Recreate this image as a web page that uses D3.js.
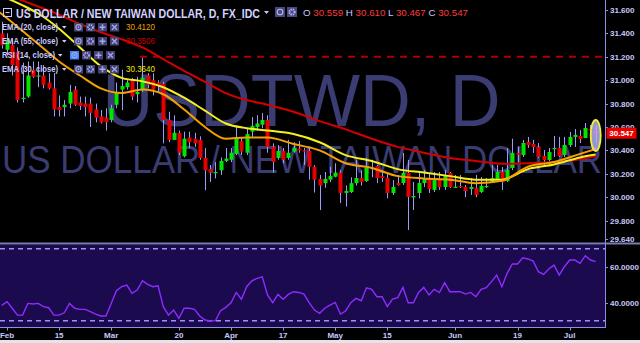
<!DOCTYPE html>
<html>
<head>
<meta charset="utf-8">
<script src="https://cdn.jsdelivr.net/npm/d3@7"></script>
<style>
  body { margin: 0; background: #000; }
  svg { display: block; }
  text { font-family: "Liberation Sans", Arial, sans-serif; }
</style>
</head>
<body>
<script>
// USD/TWD daily candles, 31 Jan - 10 Jul (first value is the day before "Feb")
const open = [31.40, 31.26, 31.30, 31.24, 30.84, 30.86, 31.09, 31.03, 31.04, 30.98,
  30.93, 30.77, 30.77, 30.80, 30.92, 30.81, 30.80, 30.80, 30.75, 30.69,
  30.68, 30.66, 30.79, 30.92, 30.94, 31.00, 30.88, 30.92, 31.04, 31.00,
  30.98, 30.97, 30.66, 30.49, 30.55, 30.35, 30.51, 30.50, 30.49, 30.335,
  30.24, 30.207, 30.23, 30.31, 30.32, 30.37, 30.48, 30.38, 30.56, 30.60,
  30.62, 30.66, 30.43, 30.335, 30.395, 30.335, 30.39, 30.415, 30.40, 30.395,
  30.26, 30.156, 30.12, 30.15, 30.175, 30.21, 30.036, 30.044, 30.12, 30.164,
  30.138, 30.24, 30.267, 30.18, 30.164, 30.036, 30.121, 30.121, 30.207, 29.998,
  30.036, 30.121, 30.164, 30.062, 30.147, 30.087, 30.207, 30.083, 30.096, 30.087,
  30.07, 30.079, 30.044, 30.087, 30.121, 30.147, 30.215, 30.138, 30.25, 30.378,
  30.361, 30.472, 30.455, 30.429, 30.352, 30.318, 30.412, 30.421, 30.361, 30.446,
  30.515, 30.523, 30.506, 30.583, 30.559]
const high = [31.50, 31.40, 31.34, 31.28, 31.15, 31.16, 31.16, 31.16, 31.13, 31.06,
  31.06, 30.87, 30.83, 30.96, 30.95, 30.86, 30.86, 30.85, 30.80, 30.745,
  30.76, 30.79, 30.98, 31.09, 31.00, 31.02, 31.03, 31.19, 31.06, 31.06,
  31.00, 30.985, 30.73, 30.70, 30.57, 30.56, 30.56, 30.55, 30.52, 30.42,
  30.275, 30.30, 30.34, 30.42, 30.42, 30.60, 30.515, 30.59, 30.685, 30.70,
  30.72, 30.70, 30.46, 30.445, 30.42, 30.49, 30.47, 30.48, 30.42, 30.42,
  30.275, 30.19, 30.215, 30.26, 30.29, 30.23, 30.10, 30.17, 30.32, 30.23,
  30.335, 30.32, 30.275, 30.23, 30.207, 30.147, 30.19, 30.378, 30.318, 30.13,
  30.207, 30.232, 30.207, 30.215, 30.215, 30.232, 30.215, 30.19, 30.19, 30.104,
  30.164, 30.19, 30.173, 30.164, 30.275, 30.275, 30.258, 30.42, 30.50, 30.43,
  30.49, 30.515, 30.49, 30.463, 30.403, 30.421, 30.523, 30.515, 30.515, 30.557,
  30.583, 30.574, 30.634, 30.617, 30.610]
const low = [31.27, 31.21, 31.04, 30.81, 30.81, 30.85, 31.02, 30.94, 30.93, 30.92,
  30.69, 30.69, 30.69, 30.76, 30.78, 30.745, 30.69, 30.60, 30.64, 30.63,
  30.57, 30.64, 30.76, 30.745, 30.92, 30.83, 30.81, 30.90, 30.93, 30.87,
  30.89, 30.46, 30.47, 30.49, 30.36, 30.34, 30.42, 30.43, 30.32, 30.06,
  30.13, 30.16, 30.19, 30.30, 30.30, 30.36, 30.36, 30.36, 30.515, 30.57,
  30.59, 30.38, 30.21, 30.32, 30.29, 30.32, 30.38, 30.38, 30.275, 30.15,
  30.04, 29.89, 30.08, 30.13, 30.17, 29.95, 29.92, 30.036, 30.10, 30.10,
  30.13, 30.17, 30.12, 30.13, 29.99, 30.019, 30.10, 30.104, 29.72, 29.89,
  29.99, 30.087, 30.036, 30.044, 30.062, 30.062, 30.079, 30.079, 30.079, 30.00,
  30.019, 30.00, 30.036, 30.079, 30.121, 30.13, 30.062, 30.13, 30.232, 30.30,
  30.344, 30.421, 30.378, 30.335, 30.275, 30.30, 30.344, 30.344, 30.344, 30.429,
  30.429, 30.463, 30.506, 30.557, 30.467]
const close = [31.30, 31.34, 31.13, 30.83, 30.85, 31.04, 31.03, 31.04, 30.96, 30.93,
  30.75, 30.745, 30.79, 30.90, 30.79, 30.78, 30.77, 30.72, 30.68, 30.64,
  30.64, 30.76, 30.90, 30.95, 30.98, 30.86, 30.90, 31.02, 30.96, 30.92,
  30.95, 30.66, 30.49, 30.55, 30.38, 30.50, 30.47, 30.46, 30.335, 30.23,
  30.21, 30.215, 30.31, 30.33, 30.38, 30.50, 30.39, 30.54, 30.61, 30.63,
  30.66, 30.43, 30.30, 30.395, 30.32, 30.38, 30.42, 30.40, 30.39, 30.26,
  30.15, 30.10, 30.156, 30.18, 30.21, 30.036, 30.053, 30.12, 30.164, 30.13,
  30.25, 30.25, 30.164, 30.164, 30.036, 30.087, 30.104, 30.207, 30.002, 30.01,
  30.121, 30.164, 30.07, 30.147, 30.087, 30.19, 30.087, 30.09, 30.087, 30.053,
  30.087, 30.019, 30.096, 30.096, 30.164, 30.215, 30.13, 30.232, 30.378, 30.361,
  30.463, 30.446, 30.429, 30.344, 30.318, 30.386, 30.421, 30.352, 30.446, 30.515,
  30.532, 30.497, 30.591, 30.574, 30.547]
const rsi = [38.5, 40.6, 36.9, 33.1, 33.1, 39.6, 39.3, 39.6, 37.8, 37.2,
  33.1, 33.1, 34.4, 39.6, 36.9, 36.3, 36.3, 35.0, 33.7, 32.6,
  32.6, 39.6, 46.7, 48.9, 49.8, 45.2, 47.0, 52.2, 50.2, 48.9,
  49.4, 37.8, 33.1, 35.9, 31.3, 36.9, 36.9, 36.3, 32.6, 30.4,
  29.8, 30.0, 35.6, 37.4, 40.0, 45.7, 41.9, 48.9, 52.2, 53.5,
  54.4, 44.3, 40.0, 44.6, 41.9, 44.6, 46.1, 45.7, 44.8, 40.0,
  35.9, 34.1, 36.9, 38.7, 40.2, 33.7, 35.4, 40.0, 42.4, 41.1,
  48.3, 47.4, 43.3, 43.3, 37.8, 42.0, 42.8, 48.5, 40.0, 40.0,
  45.7, 48.5, 44.3, 47.4, 45.6, 51.1, 46.1, 46.1, 46.1, 44.8,
  45.7, 43.3, 47.4, 48.3, 51.7, 55.4, 48.9, 56.3, 61.5, 61.5,
  65.0, 64.3, 63.1, 57.2, 55.7, 58.7, 60.9, 55.4, 60.0, 63.7,
  63.7, 61.9, 66.1, 63.7, 62.8]

// moving averages at these trading-day indexes (0 = 1 Feb)
const emaDays = [-3, 0, 3, 6, 10, 14, 18, 22, 26, 30, 34, 38, 42, 46, 50, 55, 60, 65, 70, 75, 80, 85, 90, 95, 100, 105, 110, 113]
const ema20 = [31.63, 31.53, 31.42, 31.31, 31.16, 31.04, 30.93, 30.89, 30.92, 30.88, 30.75, 30.60, 30.50, 30.51,
  30.51, 30.455, 30.40, 30.29, 30.25, 30.18, 30.16, 30.15, 30.12, 30.14, 30.26, 30.30, 30.37, 30.412]
const ema30 = [31.75, 31.70, 31.64, 31.57, 31.44, 31.28, 31.12, 31.02, 30.99, 30.94, 30.85, 30.74, 30.63, 30.59,
  30.57, 30.54, 30.47, 30.36, 30.31, 30.24, 30.21, 30.18, 30.15, 30.15, 30.24, 30.28, 30.34, 30.364]
const ema55 = [31.77, 31.73, 31.68, 31.63, 31.56, 31.48, 31.41, 31.35, 31.28, 31.18, 31.08, 30.985, 30.89, 30.83,
  30.79, 30.73, 30.65, 30.58, 30.50, 30.43, 30.38, 30.335, 30.31, 30.285, 30.29, 30.30, 30.325, 30.3506]

const dateTicks = [0, 10, 20, 33, 43, 53, 63, 73, 86, 98, 108]
const dateLabels = ['Feb', '15', 'Mar', '20', 'Apr', '17', 'May', '15', 'Jun', '19', 'Jul']
const priceTicks = [31.6, 31.4, 31.2, 31.0, 30.8, 30.6, 30.4, 30.2, 30.0, 29.8, 29.64]
const rsiTicks = [60, 40]
const rsiBands = [70, 30]
const resistance = 31.2

const legendLabels = ['EMA (20, close)', 'EMA (55, close)', 'RSI (14, close)', 'EMA (30, close)']
const legendValues = ['30.4120', '30.3506', '', '30.3640']
const ohlcLast = ['30.559', '30.610', '30.467', '30.547']
const rsiLast = '62.8031'

const W = 640, H = 343
const plotRight = 605
const lavender = '#c8c8fc'

const svg = d3.select('body').append('svg')
  .attr('width', W)
  .attr('height', H)

svg.append('rect').attr('width', W).attr('height', H).attr('fill', '#000')

const x = d3.scaleLinear().domain([0, 113]).range([7, 595.7])
const y = d3.scaleLinear().domain([29.64, 31.6]).range([239.3, 10])
const yR = d3.scaleLinear().domain([30, 70]).range([320.7, 248.7])

const defs = svg.append('defs')
defs.append('clipPath').attr('id', 'clipPrice')
  .append('rect').attr('width', plotRight).attr('height', 243)
defs.append('clipPath').attr('id', 'clipRsi')
  .append('rect').attr('y', 245).attr('width', plotRight).attr('height', 82)
defs.append('clipPath').attr('id', 'clipAxis')
  .append('rect').attr('x', plotRight).attr('width', W - plotRight).attr('height', 243)

// ---- price panel ----
const price = svg.append('g').attr('clip-path', 'url(#clipPrice)')

// watermark
price.append('text')
  .attr('x', 301.5).attr('y', 125.5)
  .attr('text-anchor', 'middle')
  .attr('font-size', 74)
  .attr('textLength', 398).attr('lengthAdjust', 'spacingAndGlyphs')
  .attr('fill', '#3a3c72')
  .text('USDTWD, D')
price.append('text')
  .attr('x', 302).attr('y', 172.5)
  .attr('text-anchor', 'middle')
  .attr('font-size', 38)
  .attr('textLength', 600).attr('lengthAdjust', 'spacingAndGlyphs')
  .attr('fill', '#3a3c72')
  .text('US DOLLAR / NEW TAIWAN DOLLAR')

price.append('line')
  .attr('x1', 140).attr('x2', plotRight)
  .attr('y1', y(resistance)).attr('y2', y(resistance))
  .attr('stroke', '#b00000').attr('stroke-width', 2)
  .attr('stroke-dasharray', '7,6')

const candles = open.map((o, i) => ({ day: i - 1, o: o, h: high[i], l: low[i], c: close[i] }))

price.selectAll('.wick').data(candles).join('line')
  .attr('class', 'wick')
  .attr('x1', d => Math.round(x(d.day)) + 0.5).attr('x2', d => Math.round(x(d.day)) + 0.5)
  .attr('y1', d => y(d.h)).attr('y2', d => y(d.l))
  .attr('stroke', '#9c9cff').attr('stroke-width', 1)

price.selectAll('.body').data(candles).join('rect')
  .attr('class', 'body')
  .attr('x', d => Math.round(x(d.day)) - 1.5)
  .attr('width', 4)
  .attr('y', d => y(Math.max(d.o, d.c)))
  .attr('height', d => Math.max(1.2, Math.abs(y(d.o) - y(d.c))))
  .attr('fill', d => d.c >= d.o ? '#00e600' : '#e60000')

const emaLine = vals => d3.line()
  .x(d => x(d))
  .y((d, i) => y(vals[i]))
  .curve(d3.curveMonotoneX)(emaDays)

price.append('path').attr('d', emaLine(ema55))
  .attr('fill', 'none').attr('stroke', '#d40000').attr('stroke-width', 2)
price.append('path').attr('d', emaLine(ema30))
  .attr('fill', 'none').attr('stroke', '#f4f020').attr('stroke-width', 2)
price.append('path').attr('d', emaLine(ema20))
  .attr('fill', 'none').attr('stroke', '#f5a000').attr('stroke-width', 2)

// highlight round the last bar
price.append('ellipse')
  .attr('cx', x(113)).attr('cy', 135.5)
  .attr('rx', 5).attr('ry', 15.5)
  .attr('fill', '#b0b0f4').attr('fill-opacity', 0.85)
  .attr('stroke', '#f2ee3a').attr('stroke-width', 1.8)
price.append('rect')
  .attr('x', x(113) - 2).attr('width', 4)
  .attr('y', y(open[open.length - 1])).attr('height', 1.5)
  .attr('fill', '#f080c0')

// legend
function iconBoxes(g, x0, y0, w, h, fill, glyph, firstFill) {
  ['eye', 'gear', 'plus', 'cross'].forEach((k, j) => {
    const bx = x0 + j * 12
    const cx = bx + w / 2, cy = y0 + h / 2
    g.append('rect').attr('x', bx).attr('y', y0).attr('width', w).attr('height', h)
      .attr('fill', j === 0 && firstFill ? firstFill : fill)
    if (k === 'eye') {
      g.append('circle').attr('cx', cx).attr('cy', cy).attr('r', 2.6)
        .attr('fill', 'none').attr('stroke', glyph).attr('stroke-width', 1.1)
      g.append('circle').attr('cx', cx).attr('cy', cy).attr('r', 0.9).attr('fill', glyph)
    } else if (k === 'gear') {
      g.append('circle').attr('cx', cx).attr('cy', cy).attr('r', 2.4)
        .attr('fill', 'none').attr('stroke', glyph).attr('stroke-width', 2)
        .attr('stroke-dasharray', '1.3,0.8')
    } else if (k === 'plus') {
      g.append('path').attr('d', `M${cx - 3},${cy}h6M${cx},${cy - 3}v6`)
        .attr('stroke', glyph).attr('stroke-width', 1.6)
    } else if (k === 'cross') {
      g.append('path').attr('d', `M${cx - 2.5},${cy - 2.5}l5,5M${cx + 2.5},${cy - 2.5}l-5,5`)
        .attr('stroke', glyph).attr('stroke-width', 1.3)
    }
  })
}

const legend = svg.append('g')
const legendColors = ['#f0a000', '#c80000', '', '#f0ec00']

// title row
legend.append('rect').attr('x', 3.5).attr('y', 8.5).attr('width', 8).attr('height', 8)
  .attr('fill', 'none').attr('stroke', lavender).attr('stroke-width', 1)
legend.append('line').attr('x1', 5.5).attr('x2', 9.5).attr('y1', 12.5).attr('y2', 12.5)
  .attr('stroke', lavender)
legend.append('text')
  .attr('x', 16).attr('y', 17.5)
  .attr('font-size', 12).attr('font-weight', 'bold')
  .attr('textLength', 244).attr('lengthAdjust', 'spacingAndGlyphs')
  .attr('fill', '#d2d2ff')
  .text('US DOLLAR / NEW TAIWAN DOLLAR, D, FX_IDC')
legend.append('path').attr('d', 'M264,11h5l-2.5,3z').attr('fill', lavender)
const titleIcons = legend.append('g')
titleIcons.append('rect').attr('x', 275).attr('y', 7).attr('width', 10).attr('height', 10).attr('fill', '#484882')
titleIcons.append('circle').attr('cx', 280).attr('cy', 12).attr('r', 2.8)
  .attr('fill', 'none').attr('stroke', '#b8b8e8').attr('stroke-width', 1.1)
titleIcons.append('rect').attr('x', 287).attr('y', 7).attr('width', 10).attr('height', 10).attr('fill', '#484882')
titleIcons.append('circle').attr('cx', 292).attr('cy', 12).attr('r', 2.6)
  .attr('fill', 'none').attr('stroke', '#b8b8e8').attr('stroke-width', 2).attr('stroke-dasharray', '1.3,0.8')

const ohlc = legend.append('text')
  .attr('x', 303).attr('y', 16)
  .attr('font-size', 9.5)
  .attr('textLength', 165).attr('lengthAdjust', 'spacingAndGlyphs')
;['O', 'H', 'L', 'C'].forEach((k, j) => {
  ohlc.append('tspan').attr('fill', lavender).text((j ? ' ' : '') + k + ' ')
  ohlc.append('tspan').attr('fill', '#ff3a3a').text(ohlcLast[j])
})

legendLabels.forEach((label, j) => {
  const cy = 27 + j * 14
  const isRsi = label.startsWith('RSI')
  legend.append('text')
    .attr('x', 2).attr('y', cy + 3)
    .attr('font-size', 8.5).attr('font-weight', 'bold')
    .attr('textLength', isRsi ? 53 : 56).attr('lengthAdjust', 'spacingAndGlyphs')
    .attr('fill', lavender)
    .text(label)
  const ax = isRsi ? 58 : 62
  legend.append('path').attr('d', `M${ax},${cy - 1}h4.5l-2.25,2.8z`).attr('fill', lavender)
  iconBoxes(legend, isRsi ? 70 : 74, cy - 4, 9, 8.5, '#42427a', '#a8a8dc', isRsi ? '#3c84ff' : null)
  if (legendValues[j]) {
    legend.append('text')
      .attr('x', 126).attr('y', cy + 3)
      .attr('font-size', 9)
      .attr('textLength', 29).attr('lengthAdjust', 'spacingAndGlyphs')
      .attr('fill', legendColors[j])
      .text(legendValues[j])
  }
})

// price axis
const axisG = svg.append('g').attr('clip-path', 'url(#clipAxis)')
priceTicks.forEach(v => {
  axisG.append('line').attr('x1', plotRight).attr('x2', plotRight + 3)
    .attr('y1', Math.round(y(v)) + 0.5).attr('y2', Math.round(y(v)) + 0.5)
    .attr('stroke', '#9090e0')
  axisG.append('text')
    .attr('x', 610).attr('y', y(v) + 3)
    .attr('font-size', 8).attr('font-weight', 'bold')
    .attr('fill', lavender)
    .text(v.toFixed(3))
})
const last = close[close.length - 1]
svg.append('rect')
  .attr('x', 606.5).attr('y', y(last) - 5.5)
  .attr('width', 30).attr('height', 11)
  .attr('fill', '#e80000')
svg.append('text')
  .attr('x', 621.5).attr('y', y(last) + 3)
  .attr('text-anchor', 'middle')
  .attr('font-size', 8).attr('font-weight', 'bold')
  .attr('fill', '#fff')
  .text(last.toFixed(3))

// ---- RSI panel ----
svg.append('line').attr('x1', 0).attr('x2', W).attr('y1', 243.5).attr('y2', 243.5)
  .attr('stroke', '#7a7ab8').attr('stroke-width', 2)
svg.append('rect').attr('x', 0).attr('y', 245).attr('width', plotRight).attr('height', 82.5)
  .attr('fill', '#1c0a4e')

const rsiG = svg.append('g').attr('clip-path', 'url(#clipRsi)')
rsiBands.forEach(v => {
  rsiG.append('line').attr('x1', 0).attr('x2', plotRight)
    .attr('y1', yR(v)).attr('y2', yR(v))
    .attr('stroke', '#a090ff').attr('stroke-width', 1.5)
    .attr('stroke-dasharray', '5,4')
})
rsiG.append('path')
  .attr('d', d3.line().x((d, i) => x(i - 1)).y(d => yR(d))(rsi))
  .attr('fill', 'none').attr('stroke', '#8e2cff').attr('stroke-width', 1.4)

legend.append('text')
  .attr('x', 2).attr('y', 258)
  .attr('font-size', 8.5).attr('font-weight', 'bold')
  .attr('textLength', 53).attr('lengthAdjust', 'spacingAndGlyphs')
  .attr('fill', lavender)
  .text(legendLabels[2])
legend.append('path').attr('d', 'M58,254h4.5l-2.25,2.8z').attr('fill', lavender)
iconBoxes(legend, 70, 251, 9.5, 8.5, '#4a3c9e', '#9a90d8', null)
legend.append('text')
  .attr('x', 121).attr('y', 258)
  .attr('font-size', 9)
  .attr('textLength', 29).attr('lengthAdjust', 'spacingAndGlyphs')
  .attr('fill', '#9a34ff')
  .text(rsiLast)

rsiTicks.forEach(v => {
  svg.append('line').attr('x1', plotRight).attr('x2', plotRight + 3)
    .attr('y1', Math.round(yR(v)) + 0.5).attr('y2', Math.round(yR(v)) + 0.5)
    .attr('stroke', '#9090e0')
  svg.append('text')
    .attr('x', 610).attr('y', yR(v) + 3)
    .attr('font-size', 8).attr('font-weight', 'bold')
    .attr('fill', lavender)
    .text(v.toFixed(4))
})

svg.append('line').attr('x1', 0).attr('x2', plotRight + 0.5).attr('y1', 327.5).attr('y2', 327.5)
  .attr('stroke', '#9090e0').attr('stroke-width', 1)
svg.append('line').attr('x1', plotRight + 0.5).attr('x2', plotRight + 0.5).attr('y1', 0).attr('y2', 328)
  .attr('stroke', '#8c8ce6').attr('stroke-width', 1)

// ---- date axis ----
dateTicks.forEach((d, j) => {
  svg.append('line').attr('x1', Math.round(x(d)) + 0.5).attr('x2', Math.round(x(d)) + 0.5)
    .attr('y1', 328).attr('y2', 330.5)
    .attr('stroke', '#9090e0')
  svg.append('text')
    .attr('x', x(d)).attr('y', 337.5)
    .attr('text-anchor', 'middle')
    .attr('font-size', 8).attr('font-weight', 'bold')
    .attr('fill', lavender)
    .text(dateLabels[j])
})

svg.append('rect').attr('x', 0).attr('y', 340).attr('width', W).attr('height', 3).attr('fill', '#e4e4ec')
</script>
</body>
</html>
